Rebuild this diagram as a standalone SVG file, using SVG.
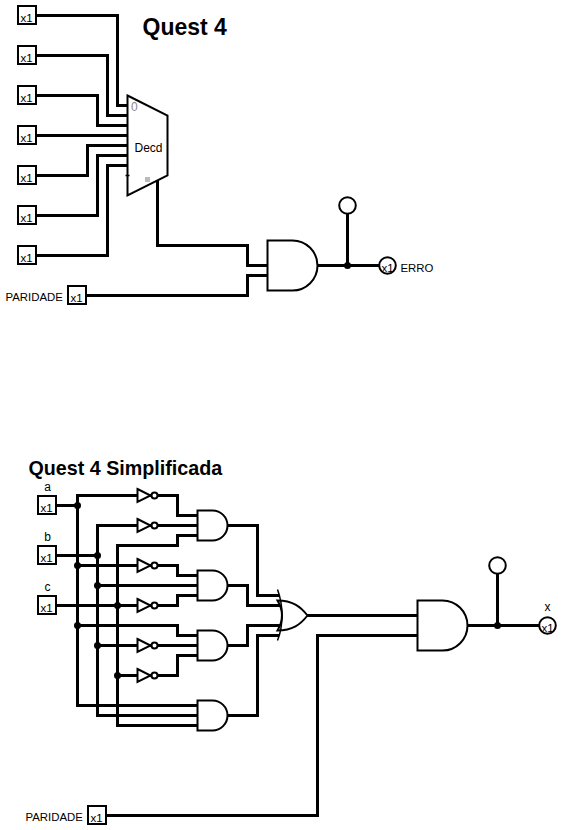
<svg xmlns="http://www.w3.org/2000/svg" xmlns:xlink="http://www.w3.org/1999/xlink" width="562" height="830" viewBox="0 0 562 830">
<style>
text{font-family:"Liberation Sans",Arial,sans-serif;font-size:12px;fill:#000}
.t{font-weight:bold;font-size:23px}
.t2{font-weight:bold;font-size:19.7px}
.x{font-size:11.5px;text-anchor:middle}
.m{text-anchor:middle}
.l{font-size:11.4px}
.w{fill:none;stroke:#000;stroke-width:3;stroke-linejoin:miter;stroke-linecap:square}
.s{fill:#fff;stroke:#000;stroke-width:2}
.n{fill:none;stroke:#000;stroke-width:1.5}
.j{fill:#000}
</style>
<defs>
<g id="box"><rect class="s" x="-9.5" y="-9.5" width="18" height="18"/><text class="x" x="-1" y="6">x1</text></g>
<path id="and30" class="s" d="M0,0H15A15,15 0 0 1 15,30H0Z"/>
<path id="and50" class="s" d="M0,0H25A25,25 0 0 1 25,50H0Z"/>
<g id="inv"><path class="s" d="M0,-6.5L13,0L0,6.5Z"/><circle class="s" cx="17" cy="0" r="3"/></g>
</defs>
<rect width="562" height="830" fill="#fff"/>
<g transform="translate(0.5 0.5)">
<text class="t" x="142" y="34">Quest 4</text>
<text class="t2" x="28" y="474">Quest 4 Simplificada</text>
<g id="connectors">
<path class="w" d="M37,15H117V105H127M37,55H107V115H127M37,95H97V125H127M37,135H127M37,175H87V145H127M37,215H97V155H127M37,255H107V165H127"/>
<path class="w" d="M157,180V245H247V265H267M87,295H247V275H267M317,265H377M347,265V214"/>
<path class="w" d="M57,505H77M77,495V705H197M77,495H177V515H197M97,525V715H197M97,525H197M117,545V725H197M117,545H177V535H197M57,555H97M77,565H177V575H197M97,585H197M57,605H177V595H197M77,625H177V635H197M97,645H197M117,675H177V655H197"/>
<path class="w" d="M227,525H257V595H277M227,585H247V605H280M227,645H247V625H280M227,715H257V635H277M307,615H417M107,815H317V635H417M467,625H537M497,625V574"/>
<circle class="j" cx="347" cy="265" r="3.5"/>
<circle class="j" cx="497" cy="625" r="3.5"/>
<circle class="j" cx="77" cy="505" r="3.5"/>
<circle class="j" cx="97" cy="555" r="3.5"/>
<circle class="j" cx="77" cy="565" r="3.5"/>
<circle class="j" cx="97" cy="585" r="3.5"/>
<circle class="j" cx="117" cy="605" r="3.5"/>
<circle class="j" cx="77" cy="625" r="3.5"/>
<circle class="j" cx="97" cy="645" r="3.5"/>
<circle class="j" cx="117" cy="675" r="3.5"/>
</g>
<g id="in1"><use xlink:href="#box" x="27" y="15"/></g>
<g id="in2"><use xlink:href="#box" x="27" y="55"/></g>
<g id="in3"><use xlink:href="#box" x="27" y="95"/></g>
<g id="in4"><use xlink:href="#box" x="27" y="135"/></g>
<g id="in5"><use xlink:href="#box" x="27" y="175"/></g>
<g id="in6"><use xlink:href="#box" x="27" y="215"/></g>
<g id="in7"><use xlink:href="#box" x="27" y="255"/></g>
<g id="paridade1"><text class="l" x="5" y="300">PARIDADE</text><use xlink:href="#box" x="77" y="295"/></g>
<g id="decoder"><path class="s" d="M127,95L167,115V175L127,195Z"/><path class="n" d="M125,175H129"/><text x="134" y="151">Decd</text><text x="130.5" y="110" style="fill:#888">0</text><rect x="144.5" y="176.5" width="5" height="5" fill="#bbb"/></g>
<g id="gate1"><use xlink:href="#and50" x="267" y="240"/></g>
<g id="probe1"><circle class="s" cx="347" cy="205" r="8.3"/></g>
<g id="out1"><circle class="s" cx="387" cy="265" r="8.3"/><text class="x" x="387" y="271">x1</text><text class="l" x="400" y="271">ERRO</text></g>
<g id="a"><text class="m" x="47" y="490">a</text><use xlink:href="#box" x="47" y="505"/></g>
<g id="b"><text class="m" x="47" y="540">b</text><use xlink:href="#box" x="47" y="555"/></g>
<g id="c"><text class="m" x="47" y="590">c</text><use xlink:href="#box" x="47" y="605"/></g>
<g id="not1"><use xlink:href="#inv" x="137" y="495"/></g>
<g id="not2"><use xlink:href="#inv" x="137" y="525"/></g>
<g id="not3"><use xlink:href="#inv" x="137" y="565"/></g>
<g id="not4"><use xlink:href="#inv" x="137" y="605"/></g>
<g id="not5"><use xlink:href="#inv" x="137" y="645"/></g>
<g id="not6"><use xlink:href="#inv" x="137" y="675"/></g>
<g id="and1"><use xlink:href="#and30" x="197" y="510"/></g>
<g id="and2"><use xlink:href="#and30" x="197" y="570"/></g>
<g id="and3"><use xlink:href="#and30" x="197" y="630"/></g>
<g id="and4"><use xlink:href="#and30" x="197" y="700"/></g>
<g id="or1"><path class="s" d="M277,600C292,600 300,606 307,615C300,624 292,630 277,630C283,620 283,610 277,600Z"/><path class="n" d="M277,589C283,605 283,625 277,640"/></g>
<g id="gate2"><use xlink:href="#and50" x="417" y="600"/></g>
<g id="probe2"><circle class="s" cx="497" cy="565" r="8.3"/></g>
<g id="outx"><text class="m" x="547" y="610">x</text><circle class="s" cx="547" cy="625" r="8.3"/><text class="x" x="547" y="631">x1</text></g>
<g id="paridade2"><text class="l" x="25" y="820">PARIDADE</text><use xlink:href="#box" x="97" y="815"/></g>
</g>
</svg>
